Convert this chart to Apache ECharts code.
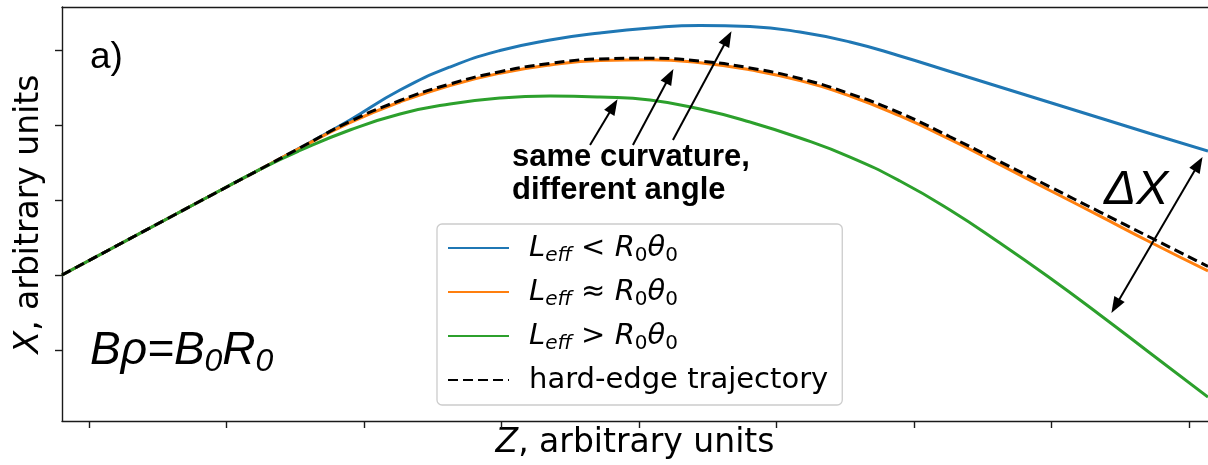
<!DOCTYPE html>
<html><head><meta charset="utf-8">
<script src="https://cdn.jsdelivr.net/npm/echarts@6/dist/echarts.min.js"></script>
<style>html,body{margin:0;padding:0;background:#fff;}#c{width:1208px;height:465px;}</style>
</head><body><div id="c"></div>
<script>
// Z positions (arbitrary units) shared by all trajectories
const zValues = [-0.196, 0.807, 1.244, 1.535, 1.898, 2.262, 2.625, 2.989, 3.353, 3.716, 4.080, 4.444, 4.807, 5.171, 5.535, 5.898, 6.262, 6.625, 6.989, 7.353, 7.716, 8.138];
const blueX   = [1.000, 1.983, 2.409, 2.695, 3.067, 3.467, 3.773, 3.993, 4.133, 4.227, 4.293, 4.327, 4.313, 4.240, 4.107, 3.920, 3.713, 3.507, 3.300, 3.093, 2.887, 2.653];
const orangeX = [1.000, 1.983, 2.409, 2.691, 3.033, 3.307, 3.527, 3.691, 3.801, 3.861, 3.871, 3.831, 3.735, 3.592, 3.387, 3.120, 2.808, 2.471, 2.127, 1.785, 1.440, 1.053];
const greenX  = [1.000, 1.983, 2.409, 2.660, 2.933, 3.147, 3.280, 3.360, 3.387, 3.373, 3.333, 3.213, 3.040, 2.827, 2.573, 2.253, 1.867, 1.427, 0.960, 0.467, -0.040, -0.627];
const hardEdgeX = [1.000, 1.983, 2.409, 2.695, 3.047, 3.327, 3.547, 3.711, 3.821, 3.881, 3.891, 3.851, 3.761, 3.619, 3.416, 3.160, 2.843, 2.511, 2.175, 1.839, 1.503, 1.113];
const xTicks = [0, 1, 2, 3, 4, 5, 6, 7, 8];
const yTicks = [0, 1, 2, 3, 4];
const seriesNames = ['Leff < R0θ0', 'Leff ≈ R0θ0', 'Leff > R0θ0', 'hard-edge trajectory'];
const legendLabels = {
  'Leff < R0θ0': '{i|L}{si|eff}{n| < }{i|R}{sn|0}{i|θ}{sn|0}',
  'Leff ≈ R0θ0': '{i|L}{si|eff}{n| ≈ }{i|R}{sn|0}{i|θ}{sn|0}',
  'Leff > R0θ0': '{i|L}{si|eff}{n| > }{i|R}{sn|0}{i|θ}{sn|0}',
  'hard-edge trajectory': '{n|hard-edge trajectory}'
};
// annotation arrows: [tailZ, tailX, headZ, headX, doubleHeaded]
const arrowSegments = [
  [3.644, 2.733, 3.814, 3.253, 0],
  [3.956, 2.733, 4.223, 3.651, 0],
  [4.247, 2.800, 4.645, 4.157, 0],
  [7.465, 0.587, 8.069, 2.480, 1]
];

const zMin = -0.196, zMax = 8.138, xMin = -0.9467, xMax = 4.5733;
const pairs = arr => zValues.map((z, i) => [z, arr[i]]);
const axisCol = '#1a1a1a';
const legFont = 'DejaVu Sans';
const LF = 29, LLH = 36;

function lineSeries(name, data, color, extra) {
  return Object.assign({
    name, type: 'line', data: pairs(data), symbol: 'none', showSymbol: false,
    smooth: 0.5, lineStyle: { color, width: 3 }, itemStyle: { color },
    emphasis: { disabled: true }, silent: true
  }, extra || {});
}
const axisNameRich = {
  i: { fontFamily: legFont, fontStyle: 'italic', fontSize: 33, lineHeight: 38, color: '#000' },
  n: { fontFamily: legFont, fontSize: 33, lineHeight: 38, color: '#000' }
};

const chart = echarts.init(document.getElementById('c'), null, { renderer: 'canvas' });
chart.setOption({
  animation: false,
  backgroundColor: '#ffffff',
  grid: { left: 62, right: 0, top: 7, bottom: 44 },
  xAxis: [{
    type: 'value', min: zMin, max: zMax, position: 'bottom',
    axisLine: { show: true, onZero: false, lineStyle: { color: axisCol, width: 1.4 } },
    axisTick: { show: true, length: 7, customValues: xTicks, lineStyle: { color: axisCol, width: 1.4 } },
    axisLabel: { show: false, customValues: xTicks },
    splitLine: { show: false },
    name: '{i|Z}{n|, arbitrary units}', nameLocation: 'middle', nameGap: 3,
    nameTextStyle: { verticalAlign: 'top', rich: axisNameRich }
  }, {
    type: 'value', min: zMin, max: zMax, position: 'top',
    axisLine: { show: true, onZero: false, lineStyle: { color: axisCol, width: 1.4 } },
    axisTick: { show: false }, axisLabel: { show: false }, splitLine: { show: false }
  }],
  yAxis: {
    type: 'value', min: xMin, max: xMax,
    axisLine: { show: true, onZero: false, lineStyle: { color: axisCol, width: 1.4 } },
    axisTick: { show: true, length: 7, customValues: yTicks, lineStyle: { color: axisCol, width: 1.4 } },
    axisLabel: { show: false, customValues: yTicks },
    splitLine: { show: false },
    name: '{i|X}{n|, arbitrary units}', nameLocation: 'middle', nameGap: 14, nameRotate: 90,
    nameTextStyle: { rich: axisNameRich }
  },
  legend: {
    data: seriesNames,
    orient: 'vertical', left: 437, top: 224,
    padding: [6, 14, 7, 10], itemGap: 8, itemWidth: 61, itemHeight: 36,
    backgroundColor: 'rgba(255,255,255,0.85)', borderColor: '#cccccc', borderWidth: 1.3, borderRadius: 5,
    selectedMode: false,
    itemStyle: { opacity: 0 },
    formatter: name => legendLabels[name],
    textStyle: {
      fontFamily: legFont, fontSize: LF, color: '#000', padding: [0, 0, 0, 15], lineHeight: LLH,
      rich: {
        i: { fontFamily: legFont, fontStyle: 'italic', fontSize: LF, lineHeight: LLH, color: '#000' },
        n: { fontFamily: legFont, fontSize: LF, lineHeight: LLH, color: '#000' },
        si: { fontFamily: legFont, fontStyle: 'italic', fontSize: 20, lineHeight: 18, verticalAlign: 'bottom', color: '#000' },
        sn: { fontFamily: legFont, fontSize: 20, lineHeight: 18, verticalAlign: 'bottom', color: '#000' }
      }
    }
  },
  series: [
    lineSeries(seriesNames[0], blueX, '#1f77b4', { z: 2 }),
    lineSeries(seriesNames[1], orangeX, '#ff7f0e', { z: 3 }),
    lineSeries(seriesNames[2], greenX, '#2ca02c', { z: 4 }),
    lineSeries(seriesNames[3], hardEdgeX, '#000000', { z: 5, lineStyle: { color: '#000', width: 3, type: [10, 5] } }),
    {
      name: 'arrows', type: 'line', data: [], symbol: 'none', silent: true, z: 6,
      markLine: {
        silent: true, animation: false, symbol: ['none', 'triangle'], symbolSize: [12, 16],
        lineStyle: { color: '#000', width: 2, type: 'solid' },
        label: { show: false }, emphasis: { disabled: true },
        data: arrowSegments.map(a => [
          a[4] ? { coord: [a[0], a[1]], symbol: 'triangle' } : { coord: [a[0], a[1]] },
          { coord: [a[2], a[3]] }
        ])
      }
    }
  ],
  graphic: [
    { type: 'text', x: 90, y: 58, z: 10, style: { text: 'a)', font: '37px "Liberation Sans"', fill: '#000', verticalAlign: 'middle' } },
    { type: 'text', x: 512, y: 141, z: 10, style: { text: 'same curvature,\ndifferent angle', font: 'bold 31px "Liberation Sans"', lineHeight: 33, fill: '#000', verticalAlign: 'top' } },
    { type: 'text', x: 1104, y: 191, z: 10, style: { text: 'ΔX', font: 'italic 48px "Liberation Sans"', fill: '#000', verticalAlign: 'middle' } },
    { type: 'text', x: 90, y: 324, z: 10, style: {
      text: '{m|Bρ=B}{s|0}{m|R}{s|0}', verticalAlign: 'top',
      rich: {
        m: { fontFamily: 'Liberation Sans', fontStyle: 'italic', fontSize: 46, lineHeight: 54, fill: '#000' },
        s: { fontFamily: 'Liberation Sans', fontStyle: 'italic', fontSize: 32, lineHeight: 18, verticalAlign: 'bottom', fill: '#000' }
      } } }
  ]
});
</script></body></html>
